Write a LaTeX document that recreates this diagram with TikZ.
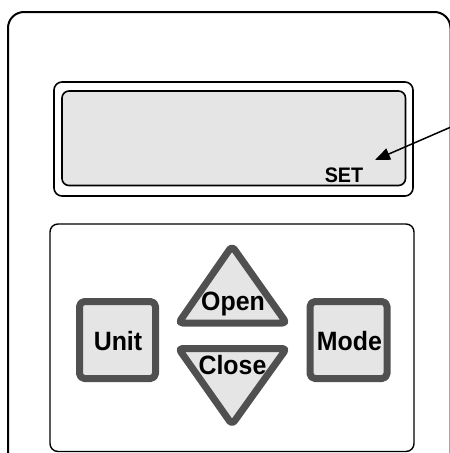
\documentclass[tikz,border=0pt]{standalone}
\usepackage{fontspec}
\setmainfont{Liberation Sans}
\usetikzlibrary{arrows.meta}
\definecolor{lcd}{HTML}{E5E5E5}
\definecolor{keyline}{HTML}{505050}
\newcommand{\narrow}[1]{\scalebox{0.94}[1]{#1}}
\tikzset{
  thinbox/.style={draw=black, line width=1.6pt, rounded corners=8pt},
  keybtn/.style={draw=keyline, fill=lcd, line width=7pt, line join=round, rounded corners=5pt},
  keytext/.style={font=\bfseries\fontsize{26.5}{26.5}\selectfont, anchor=base, inner sep=0pt},
  settext/.style={font=\bfseries\fontsize{21}{21}\selectfont, anchor=base, inner sep=0pt},
  pointer/.style={draw=black, line width=1.5pt, -{Triangle[length=15pt,width=12pt]}}
}
\begin{document}
\begin{tikzpicture}[x=1pt,y=-1pt]
\useasboundingbox (0,0) rectangle (450,453);
\clip (0,0) rectangle (450,453);
\fill[white] (0,0) rectangle (450,453);
% outer housing
\draw[line width=2pt, rounded corners=16pt] (8,470) -- (8,12) -- (450.5,12) -- (450.5,470);
% display
\draw[thinbox] (54,82) rectangle (413,196);
\draw[thinbox, fill=lcd, rounded corners=7pt] (62,91) rectangle (405.5,185.5);
\node[settext] (set) at (344,182) {\narrow{SET}};
\coordinate (arrowstart) at (451,127);
\coordinate (arrowtip) at (375,160);
\draw[pointer] (arrowstart) -- (arrowtip);
% keypad
\draw[thinbox, line width=1.4pt] (50,224) rectangle (414,451.5);
% Unit key
\draw[keybtn] (79.5,301.5) rectangle (155.5,378.5);
\node[keytext] (unit) at (118,350) {\narrow{Unit}};
% Mode key
\draw[keybtn] (310,301.5) rectangle (387,378.5);
\node[keytext] (mode) at (349.5,350) {\narrow{Mode}};
% Open key
\draw[keybtn, rounded corners=4pt] (178.5,323) -- (232,246) -- (286.5,323) -- cycle;
\node[keytext] (open) at (233,310) {\narrow{Open}};
% Close key
\draw[keybtn, rounded corners=4pt] (178.5,348.5) -- (286.5,348.5) -- (232,424.5) -- cycle;
\node[keytext] (close) at (232.5,374.5) {\narrow{Close}};
\end{tikzpicture}
\end{document}
